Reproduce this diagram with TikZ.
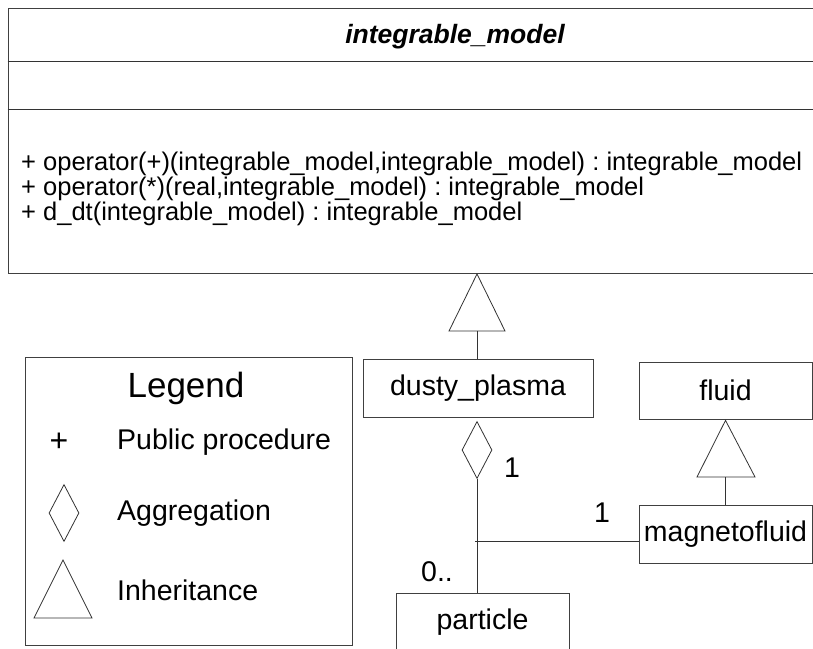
\documentclass[tikz,border=0pt]{standalone}
\usepackage{fontspec}
\setmainfont{Liberation Sans}
\usepackage{tikz}
\usetikzlibrary{positioning, shapes.geometric, calc}
\frenchspacing

\begin{document}
\begin{tikzpicture}[
    x=1pt, y=1pt,
    classe/.style={draw=black!75, line width=0.8pt, inner sep=0pt,
                   font=\fontsize{28.5}{32}\selectfont},
    lien/.style={draw=black!80, line width=0.8pt},
    heritage/.style={draw=black!80, line width=0.8pt, fill=white},
    agreg/.style={diamond, draw=black!80, line width=0.8pt, fill=white,
                  inner sep=0pt, minimum width=30pt, minimum height=57pt},
    texte/.style={font=\fontsize{28.5}{32}\selectfont, inner sep=0pt}
  ]
    \clip (0,0) rectangle (813,648);

    % Classe abstraite
    \node[classe, minimum width=894pt, minimum height=265pt]
      (model) at (455,507.5) {};
    \draw[lien] (model.west |- 0,587) -- (model.east |- 0,587);
    \draw[lien] (model.west |- 0,539) -- (model.east |- 0,539);
    \node[font=\fontsize{26.5}{30}\selectfont\bfseries\itshape]
      (titre) at (455,611) {integrable\_model};
    \node[font=\fontsize{25.5}{25}\selectfont, align=left, anchor=north west,
          inner sep=0pt] (methodes) at (21,496)
      {+ operator(+)(integrable\_model,integrable\_model) : integrable\_model\\
       + operator(*)(real,integrable\_model) : integrable\_model\\
       + d\_dt(integrable\_model) : integrable\_model};

    % Classes
    \node[classe, minimum width=230pt, minimum height=58pt]
      (dusty) at (478,260) {dusty\_plasma};
    \node[classe, minimum width=173pt, minimum height=57pt]
      (fluid) at (725.5,257.5) {fluid};
    \node[classe, minimum width=173pt, minimum height=58pt]
      (magneto) at (725.5,114) {magnetofluid};
    \node[classe, minimum width=173pt, minimum height=58pt]
      (particle) at (482.5,26) {particle};

    % Heritage dusty_plasma -> integrable_model
    \draw[heritage] (477,374) -- (449,317) -- (505,317) -- cycle;
    \draw[lien] (477,317) -- (dusty.north -| 477,0);

    % Heritage magnetofluid -> fluid
    \draw[heritage] (fluid.south) ++(0,-1) -- (697,171) -- (755,171) -- cycle;
    \draw[lien] (725.5,171) -- (magneto.north);

    % Agregation dusty_plasma <>- particle
    \node[agreg] (losange) at (477,198) {};
    \draw[lien] (losange.south) -- (losange.south |- particle.north);
    \coordinate (jonction) at (475,107);
    \draw[lien] (jonction) -- (jonction -| magneto.west);
    \node[texte] (mult1) at (512,180) {1};
    \node[texte] (mult2) at (602,135) {1};
    \node[texte] (mult3) at (437,76) {0..};

    % Legende
    \node[classe, minimum width=327pt, minimum height=288pt]
      (legende) at (188.5,147) {};
    \node[font=\fontsize{35}{40}\selectfont] (titreleg) at (186,260) {Legend};
    \node[font=\fontsize{32}{36}\selectfont, inner sep=0pt] (plus) at (59,206) {+};
    \node[texte, anchor=west] (public) at (117,206) {Public procedure};
    \node[agreg] (legagreg) at (64,135) {};
    \node[texte, anchor=west] (aggreg) at (117,135) {Aggregation};
    \draw[heritage] (63,88) -- (34,30) -- (92,30) -- cycle;
    \node[texte, anchor=west] (inherit) at (117,58) {Inheritance};
  \end{tikzpicture}
\end{document}
